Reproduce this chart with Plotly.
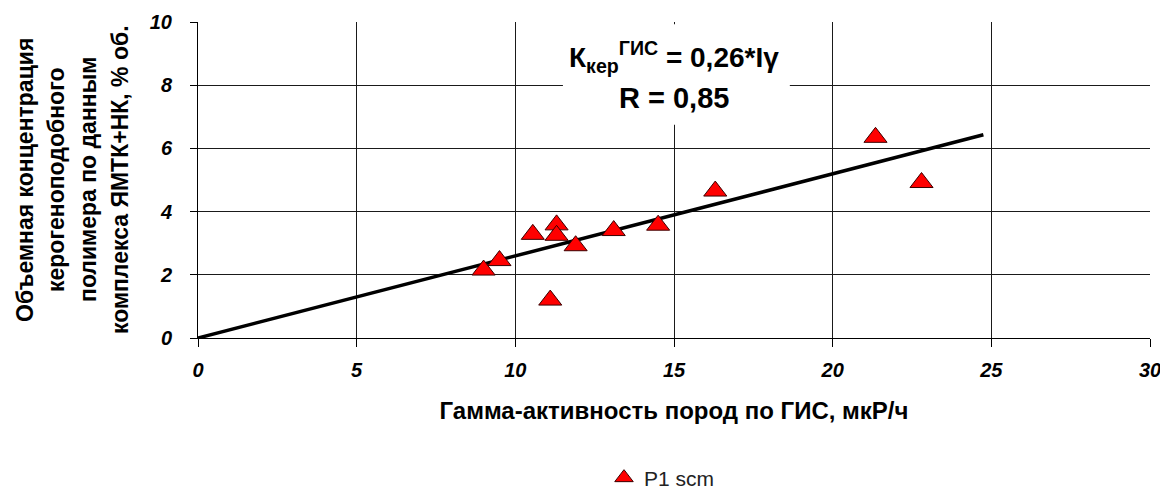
import plotly.graph_objects as go

# Data
gamma = [9.0, 9.5, 10.55, 11.3, 11.3, 11.1, 11.9, 13.1, 14.5, 16.3, 21.35, 22.8]
kerogen = [2.15, 2.45, 3.28, 3.58, 3.25, 1.2, 2.92, 3.4, 3.57, 4.65, 6.35, 4.92]
trend_x = [0.0, 24.75]
trend_y = [0.0, 6.43]

x_ticks = [0, 5, 10, 15, 20, 25, 30]
y_ticks = [0, 2, 4, 6, 8, 10]

series_name = "P1 scm"
x_title = "Гамма-активность пород по ГИС, мкР/ч"
y_title_lines = [
    "Объемная концентрация",
    "керогеноподобного",
    "полимера по данным",
    "комплекса ЯМТК+НК, % об.",
]
eq_line1 = "К<sub>кер</sub><sup>ГИС</sup> = 0,26*Iγ"
eq_line2 = "R = 0,85"

FONT = "Liberation Sans, Arial, sans-serif"
OFF = 8  # page body margin of the written html
W, H = 1168 - OFF, 489 - OFF
# plot area in page pixels: left 198, right 1150, top 22, bottom 338
L, T = 198 - OFF, 22 - OFF
R = W - (1150 - OFF)
B = H - (338 - OFF)
PW = W - L - R
PH = H - T - B


def px_x(px):
    return (px - OFF - L) / PW


def px_y(py):
    return (H - B - (py - OFF)) / PH


fig = go.Figure()

fig.add_trace(go.Scatter(
    x=trend_x, y=trend_y, mode="lines",
    line=dict(color="black", width=3.5),
    showlegend=False, hoverinfo="skip",
))

fig.add_trace(go.Scatter(
    x=gamma, y=kerogen, mode="markers", name=series_name,
    marker=dict(symbol="triangle-up", size=20, color="#FF0000",
                line=dict(color="#3a0000", width=1)),
))

# white box behind equation (covers gridlines)
fig.add_shape(type="rect", xref="x", yref="y",
              x0=11.5, x1=18.65, y0=6.75, y1=9.93,
              fillcolor="white", line=dict(width=0), layer="above")

fig.add_annotation(x=15.0, y=px_y(57), xref="x", yref="paper", text="<b>" + eq_line1 + "</b>",
                   showarrow=False, yanchor="middle",
                   font=dict(family=FONT, size=28, color="black"))
fig.add_annotation(x=15.0, y=px_y(98), xref="x", yref="paper", text="<b>" + eq_line2 + "</b>",
                   showarrow=False, yanchor="middle",
                   font=dict(family=FONT, size=29, color="black"))

# multi-line y title as rotated text lines
y_line_px = [25, 56, 88, 120]
for txt, px in zip(y_title_lines, y_line_px):
    fig.add_annotation(x=px_x(px), y=px_y(180), xref="paper", yref="paper",
                       text="<b>" + txt + "</b>", textangle=-90, showarrow=False,
                       xanchor="center", yanchor="middle",
                       font=dict(family=FONT, size=23, color="black"))

fig.update_xaxes(
    range=[0, 30], tickvals=x_ticks, ticktext=[str(v) for v in x_ticks],
    showgrid=True, gridcolor="#1a1a1a", gridwidth=1,
    showline=True, linecolor="black", linewidth=1, mirror=False,
    ticks="outside", ticklen=8, tickcolor="black", tickwidth=1,
    ticklabelstandoff=6, automargin=False,
    tickfont=dict(family=FONT, size=20, color="black", weight="bold", style="italic"),
    zeroline=False,
    title=dict(text="<b>" + x_title + "</b>", standoff=22,
               font=dict(family=FONT, size=24, color="black")),
)
fig.update_yaxes(
    range=[0, 10], tickvals=y_ticks, ticktext=[str(v) for v in y_ticks],
    showgrid=True, gridcolor="#1a1a1a", gridwidth=1,
    showline=True, linecolor="black", linewidth=1,
    ticks="outside", ticklen=7, tickcolor="black", tickwidth=1,
    ticklabelstandoff=14, automargin=False,
    tickfont=dict(family=FONT, size=20, color="black", weight="bold", style="italic"),
    zeroline=False,
)

fig.update_layout(
    width=W, height=H,
    margin=dict(l=L, r=R, t=T, b=B, pad=0, autoexpand=False),
    plot_bgcolor="white", paper_bgcolor="white",
    showlegend=True,
    legend=dict(orientation="h", x=px_x(604), xanchor="left",
                y=px_y(478), yanchor="middle",
                font=dict(family=FONT, size=21, color="#222"),
                bgcolor="rgba(0,0,0,0)", itemwidth=30),
)

fig.write_html("out.html")
